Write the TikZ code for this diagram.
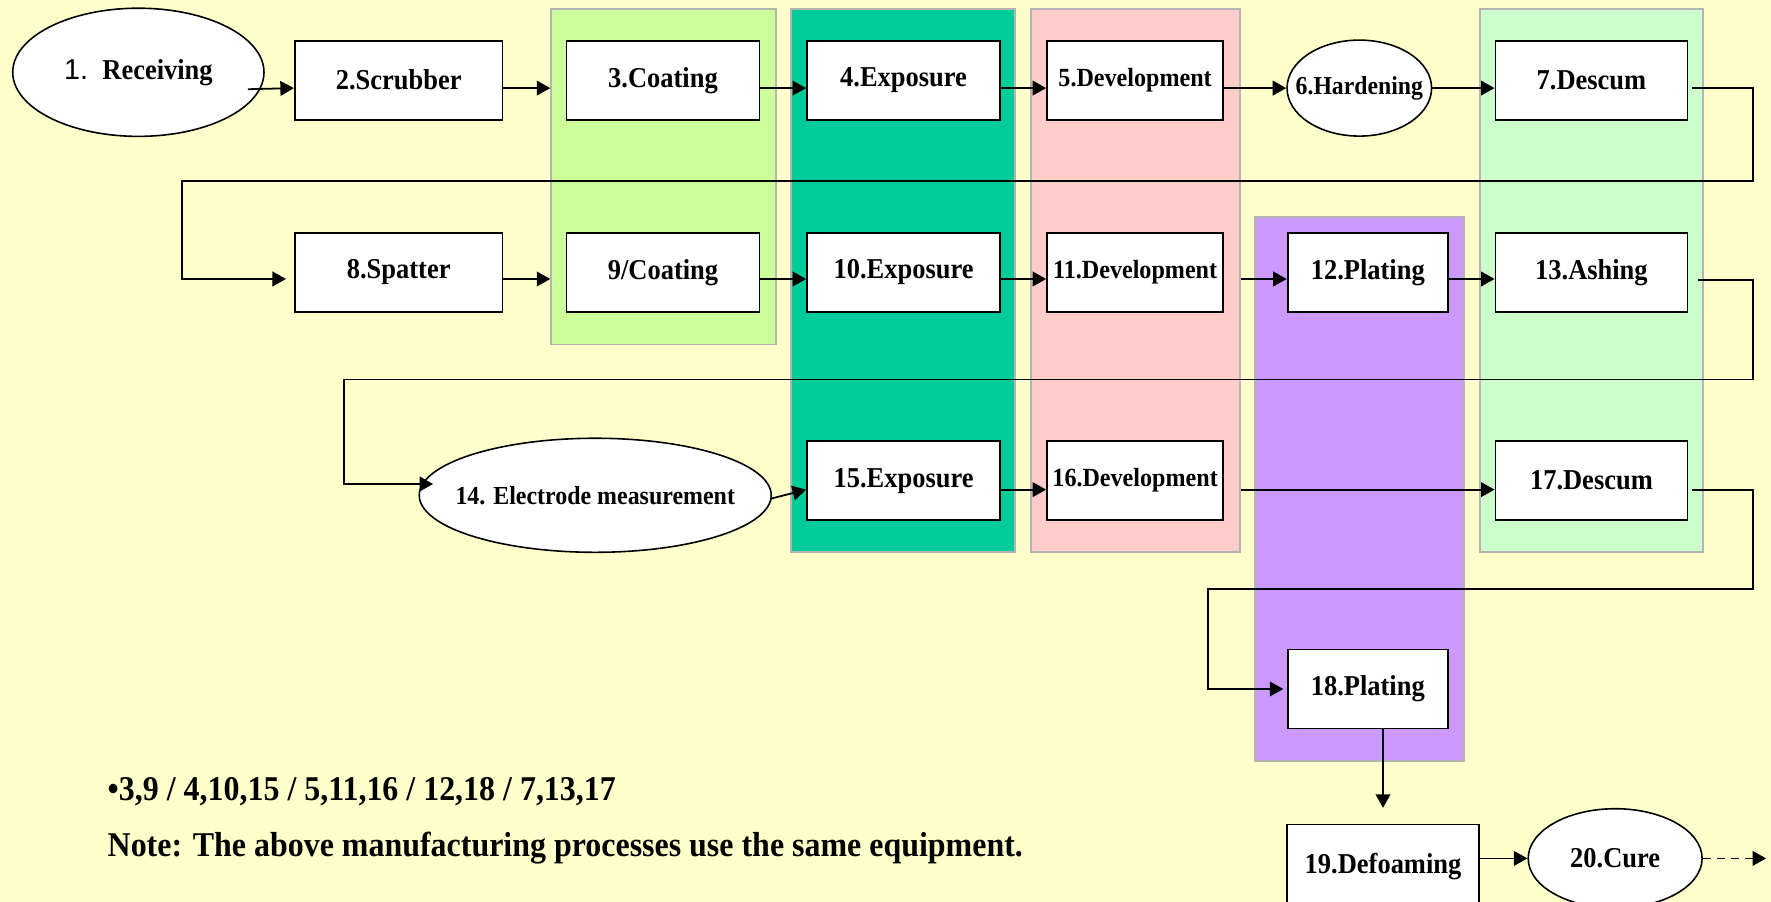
\documentclass[tikz,border=0pt]{standalone}
\usepackage{fontspec}
\setmainfont{Liberation Serif}[FakeStretch=0.92]
\newfontfamily\numfont{Liberation Sans}
\usepackage{tikz}
\usetikzlibrary{shapes.geometric, arrows.meta, positioning, calc}
\usepackage{xcolor}
\definecolor{bgyellow}{HTML}{FFFFCC}
\definecolor{bandgreen}{HTML}{CCFF99}
\definecolor{bandteal}{HTML}{00CC99}
\definecolor{bandpink}{HTML}{FFCCCC}
\definecolor{bandpurple}{HTML}{CC99FF}
\definecolor{bandmint}{HTML}{CCFFCC}
\definecolor{bandedge}{HTML}{B4B4B4}
\tikzstyle{process} = [rectangle, minimum height=1.4cm, text centered, draw=black, fill=white, line width=0.9pt, inner sep=1pt, font=\bfseries\fontsize{14.5}{16}\selectfont]
\tikzstyle{terminal} = [ellipse, draw=black, fill=white, line width=0.8pt, inner sep=0pt, font=\bfseries\fontsize{14.5}{16}\selectfont]
\tikzstyle{band} = [rectangle, draw=bandedge, line width=0.9pt, inner sep=0pt]
\tikzstyle{arrow} = [line width=0.9pt, -{Triangle[length=0.24cm, width=0.26cm]}]
\tikzstyle{note} = [anchor=west, inner sep=0pt, font=\bfseries\fontsize{17.5}{20}\selectfont]

\begin{document}
\begin{tikzpicture}[x=0.02cm, y=-0.02cm]
    \useasboundingbox (0,0) rectangle (1568,798.6);
    \fill [bgyellow] (0,0) rectangle (1568,798.6);

    \node (band3) [band, fill=bandgreen, minimum width=3.98cm, minimum height=5.94cm] at (587.5,156.5) {};
    \node (band4) [band, fill=bandteal, minimum width=3.98cm, minimum height=9.62cm] at (799.5,248.5) {};
    \node (band5) [band, fill=bandpink, minimum width=3.69cm, minimum height=9.62cm] at (1005.3,248.5) {};
    \node (band12) [band, fill=bandpurple, minimum width=3.70cm, minimum height=9.64cm] at (1203.5,433) {};
    \node (band7) [band, fill=bandmint, minimum width=3.96cm, minimum height=9.62cm] at (1409,248.5) {};

    \node (p1) [terminal, minimum width=4.45cm, minimum height=2.27cm] at (122.5,64) {{\numfont\mdseries 1.}\hspace{0.5em}Receiving};
    \node (p2) [process, minimum width=3.68cm] at (353,71) {2.Scrubber};
    \node (p3) [process, minimum width=3.42cm] at (587,71) {3.Coating};
    \node (p4) [process, minimum width=3.42cm] at (800,71) {4.Exposure};
    \node (p5) [process, minimum width=3.12cm, font=\bfseries\fontsize{13.2}{15}\selectfont] at (1005,71) {5.Development};
    \node (p6) [terminal, inner xsep=-0.235cm, minimum width=2.56cm, minimum height=1.7cm, font=\bfseries\fontsize{13}{15}\selectfont] at (1203.5,78) {6.Hardening};
    \node (p7) [process, minimum width=3.4cm] at (1409,71) {7.Descum};

    \node (p8) [process, minimum width=3.68cm] at (353,241) {8.Spatter};
    \node (p9) [process, minimum width=3.42cm] at (587,241) {9/Coating};
    \node (p10) [process, minimum width=3.42cm] at (800,241) {10.Exposure};
    \node (p11) [process, minimum width=3.12cm, font=\bfseries\fontsize{13.2}{15}\selectfont] at (1005,241) {11.Development};
    \node (p12) [process, minimum width=2.84cm] at (1211,241) {12.Plating};
    \node (p13) [process, minimum width=3.4cm] at (1409,241) {13.Ashing};

    \node (p14) [terminal, inner xsep=-0.27cm, minimum width=6.16cm, minimum height=2.02cm, font=\bfseries\fontsize{13.1}{15}\selectfont] at (527,438.5) {14. Electrode measurement};
    \node (p15) [process, minimum width=3.42cm] at (800,425.5) {15.Exposure};
    \node (p16) [process, minimum width=3.12cm, font=\bfseries\fontsize{13.2}{15}\selectfont] at (1005,425.5) {16.Development};
    \node (p17) [process, minimum width=3.4cm] at (1409,425.5) {17.Descum};

    \node (p18) [process, minimum width=2.84cm] at (1211,610) {18.Plating};
    \node (p19) [process, minimum width=3.4cm, minimum height=1.48cm] at (1224.5,767) {19.Defoaming};
    \node (p20) [terminal, minimum width=3.08cm, minimum height=1.76cm] at (1430,760) {20.Cure};
    \coordinate (exit) at ($(p20.east)+(56,0)$);

    \node (same) [note] at (95,701) {•3,9 / 4,10,15 / 5,11,16 / 12,18 / 7,13,17};
    \node (remark) [note] at (95,751) {Note: The above manufacturing processes use the same equipment.};

    \draw [arrow] ($(p1.east)+(-15,15)$) -- ($(p2.west)+(0,7)$);
    \draw [arrow] ($(p2.east)+(0,7)$) -- ($(p2.east -| band3.west)+(0,7)$);
    \draw [arrow] ($(p3.east)+(0,7)$) -- ($(p4.west)+(0,7)$);
    \draw [arrow] ($(p4.east)+(0,7)$) -- ($(p5.west)+(0,7)$);
    \draw [arrow] ($(p5.east)+(0,7)$) -- (p6.west);
    \draw [arrow] (p6.east) -- (p6.east -| p7.west);
    \draw [arrow] ($(p7.east)+(3,7)$) -- ++(54,0) -- ++(0,82) -| ($(p8.west)+(-99,6)$) -- ($(p8.west)+(-7,6)$);

    \draw [arrow] ($(p8.east)+(0,6)$) -- ($(p8.east -| band3.west)+(0,6)$);
    \draw [arrow] ($(p9.east)+(0,6)$) -- ($(p10.west)+(0,6)$);
    \draw [arrow] ($(p10.east)+(0,6)$) -- ($(p11.west)+(0,6)$);
    \draw [arrow] ($(p11.east -| band5.east)+(0,6)$) -- ($(p12.west)+(0,6)$);
    \draw [arrow] ($(p12.east)+(0,6)$) -- ($(p13.west)+(0,6)$);
    \draw [arrow] ($(p13.east)+(9,7)$) -- ++(48,0) -- ++(0,88) -| ($(p14.west)+(-66,-10)$) -- ($(p14.west)+(13,-10)$);

    \draw [arrow] ($(p14.east)+(-1,3)$) -- ($(p15.west)+(0,8)$);
    \draw [arrow] ($(p15.east)+(0,8)$) -- ($(p16.west)+(0,8)$);
    \draw [arrow] ($(p16.east -| band5.east)+(0,8)$) -- ($(p17.west)+(0,8)$);
    \draw [arrow] ($(p17.east)+(3,8)$) -- ++(54,0) -- ++(0,88) -| ($(p18.west)+(-70,0)$) -- ($(p18.west)+(-3,0)$);

    \draw [arrow] (p18.south -| p19.north) -- ($(p19.north)+(0,-14)$);
    \draw [arrow] ($(p19.east)+(0,-7)$) -- (p20.west);
    \draw [arrow, dash pattern=on 4pt off 3pt] (p20.east) -- (exit);
\end{tikzpicture}
\end{document}
